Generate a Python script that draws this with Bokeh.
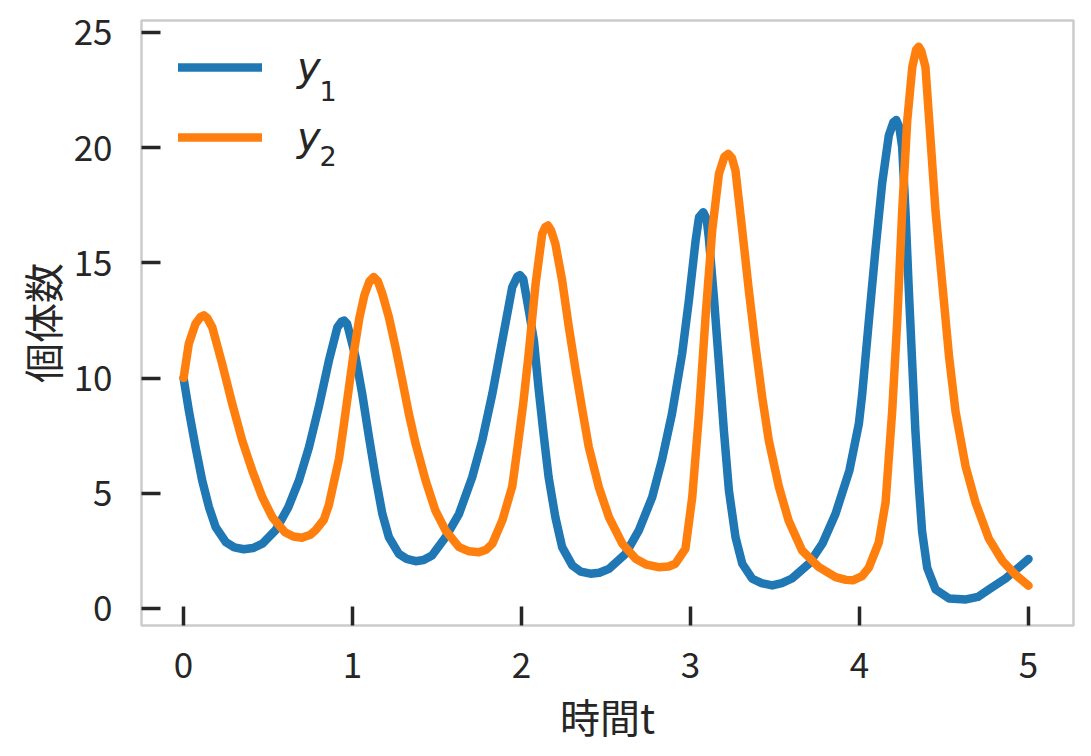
from bokeh.plotting import figure
from bokeh.models import Range1d, Legend, LegendItem, Label, FixedTicker
from bokeh.embed import file_html
from bokeh.resources import INLINE

# ---- data ----
t1 = [0.0, 0.031, 0.071, 0.11, 0.15, 0.19, 0.25, 0.30, 0.357, 0.41, 0.466, 0.544, 0.62, 0.683,
      0.742, 0.80, 0.86, 0.91, 0.935, 0.949, 0.968, 1.018, 1.057, 1.097, 1.136, 1.176, 1.215,
      1.274, 1.32, 1.373, 1.42, 1.47, 1.55, 1.63, 1.708, 1.767, 1.827, 1.886, 1.945, 1.975,
      1.99, 2.01, 2.043, 2.073, 2.10, 2.13, 2.16, 2.20, 2.24, 2.30, 2.35, 2.408, 2.46, 2.517,
      2.615, 2.694, 2.773, 2.83, 2.89, 2.95, 2.99, 3.03, 3.05, 3.075, 3.095, 3.108, 3.138,
      3.168, 3.197, 3.227, 3.266, 3.306, 3.365, 3.42, 3.483, 3.54, 3.60, 3.70, 3.78, 3.858,
      3.94, 3.996, 4.016, 4.055, 4.095, 4.134, 4.173, 4.20, 4.217, 4.235, 4.252, 4.272, 4.29,
      4.31, 4.33, 4.35, 4.37, 4.40, 4.45, 4.53, 4.63, 4.70, 4.765, 4.864, 4.94, 5.0]
y1 = [10.0, 8.6, 7.0, 5.56, 4.4, 3.53, 2.88, 2.65, 2.57, 2.62, 2.81, 3.39, 4.4, 5.56,
      7.0, 8.74, 10.76, 12.2, 12.45, 12.5, 12.35, 10.9, 9.32, 7.44, 5.7, 4.11, 3.09,
      2.37, 2.15, 2.05, 2.1, 2.3, 3.09, 4.11, 5.7, 7.29, 9.32, 11.63, 13.95, 14.4,
      14.47, 14.3, 12.93, 11.63, 9.6, 7.58, 5.7, 3.96, 2.66, 1.87, 1.6, 1.51, 1.55, 1.72,
      2.37, 3.39, 4.83, 6.42, 8.45, 11.05, 13.37, 15.97, 16.98, 17.2, 16.9, 16.1, 13.51,
      10.62, 7.73, 5.12, 3.09, 1.94, 1.29, 1.1, 1.0, 1.1, 1.3, 1.94, 2.81, 4.11,
      5.99, 8.02, 9.33, 12.48, 15.63, 18.47, 20.52, 21.1, 21.2, 20.9, 20.05, 17.2, 14.06,
      10.9, 7.76, 5.4, 3.35, 1.77, 0.82, 0.43, 0.39, 0.5, 0.82, 1.3, 1.77, 2.15]

t2 = [0.0, 0.031, 0.071, 0.10, 0.12, 0.14, 0.17, 0.229, 0.288, 0.347, 0.406, 0.466, 0.525,
      0.60, 0.65, 0.70, 0.75, 0.78, 0.83, 0.86, 0.89, 0.92, 0.947, 0.975, 1.005, 1.04, 1.07,
      1.10, 1.125, 1.15, 1.176, 1.215, 1.254, 1.294, 1.333, 1.373, 1.432, 1.49, 1.55, 1.63,
      1.69, 1.747, 1.79, 1.827, 1.886, 1.945, 1.98, 2.01, 2.04, 2.083, 2.122, 2.14, 2.156,
      2.175, 2.20, 2.24, 2.28, 2.32, 2.36, 2.398, 2.457, 2.517, 2.596, 2.675, 2.74, 2.81,
      2.87, 2.91, 2.97, 3.01, 3.05, 3.09, 3.128, 3.168, 3.20, 3.223, 3.245, 3.266, 3.306,
      3.345, 3.385, 3.424, 3.463, 3.523, 3.58, 3.66, 3.76, 3.858, 3.92, 3.96, 4.015, 4.055,
      4.114, 4.154, 4.193, 4.223, 4.252, 4.282, 4.312, 4.335, 4.35, 4.365, 4.39, 4.42, 4.45,
      4.49, 4.53, 4.568, 4.627, 4.686, 4.765, 4.844, 4.923, 5.0]
y2 = [10.0, 11.5, 12.36, 12.65, 12.72, 12.6, 12.2, 10.6, 8.88, 7.29, 5.99, 4.83, 3.96,
      3.31, 3.12, 3.07, 3.2, 3.39, 3.85, 4.5, 5.5, 6.5, 7.9, 9.4, 11.0, 12.6, 13.6,
      14.2, 14.38, 14.2, 13.66, 12.64, 11.34, 9.9, 8.45, 7.15, 5.56, 4.25, 3.39, 2.66,
      2.48, 2.44, 2.55, 2.81, 3.82, 5.3, 7.2, 8.9, 10.9, 14.09, 16.26, 16.55, 16.62,
      16.4, 15.83, 14.24, 12.2, 10.33, 8.59, 7.0, 5.27, 3.96, 2.81, 2.16, 1.9, 1.79,
      1.82, 1.94, 2.6, 4.83, 8.45, 12.79, 16.4, 18.87, 19.6, 19.73, 19.55, 19.0, 16.4,
      13.8, 11.34, 9.17, 7.29, 5.27, 3.82, 2.52, 1.79, 1.36, 1.24, 1.22, 1.4, 1.77,
      2.87, 4.6, 8.55, 12.48, 17.2, 21.15, 23.5, 24.25, 24.38, 24.2, 23.5, 20.36, 17.2,
      14.06, 10.9, 8.55, 6.18, 4.6, 3.03, 2.08, 1.46, 0.99]

series_names = ["y", "y"]
series_subs = ["1", "2"]
x_ticks = [0, 1, 2, 3, 4, 5]
y_ticks = [0, 5, 10, 15, 20, 25]
x_label = "時間t"
y_label = "個体数"

TXT = "#262626"
JP = "Noto Sans CJK JP"

p = figure(width=1091, height=756, output_backend="svg", toolbar_location=None,
           x_range=Range1d(-0.249, 5.266), y_range=Range1d(-0.74, 25.52),
           min_border_left=141, min_border_right=18, min_border_top=20,
           min_border_bottom=131)
p.xgrid.visible = False
p.ygrid.visible = False
p.outline_line_color = "#cccccc"
p.outline_line_width = 2.5
p.background_fill_color = "white"
p.border_fill_color = "white"

for ax, ticks in ((p.xaxis, x_ticks), (p.yaxis, y_ticks)):
    ax.ticker = FixedTicker(ticks=ticks)
    ax.axis_line_color = None
    ax.major_tick_line_color = TXT
    ax.major_tick_line_width = 3.5
    ax.major_tick_in = 19
    ax.major_tick_out = 0
    ax.minor_tick_line_color = None
    ax.major_label_text_font = JP
    ax.major_label_text_font_size = "35px"
    ax.major_label_text_color = TXT
    ax.axis_label_text_font = JP
    ax.axis_label_text_font_style = "normal"
    ax.axis_label_text_font_size = "40px"
    ax.axis_label_text_color = TXT

p.yaxis.major_label_standoff = 29
p.xaxis.major_label_standoff = 26
p.yaxis.axis_label = y_label
p.yaxis.axis_label_standoff = 0
p.xaxis.axis_label = x_label
p.xaxis.axis_label_standoff = 6

r1 = p.line(t1, y1, line_color="#1f77b4", line_width=8.5, line_cap="round", line_join="round")
r2 = p.line(t2, y2, line_color="#ff7f0e", line_width=8.5, line_cap="round", line_join="round")

legend = Legend(items=[LegendItem(label=series_names[0], renderers=[r1]),
                       LegendItem(label=series_names[1], renderers=[r2])],
                location=(37, 465), glyph_width=84, glyph_height=40, label_height=40,
                label_standoff=35, spacing=24, padding=0, margin=0,
                border_line_color=None, background_fill_alpha=0,
                label_text_font="DejaVu Sans", label_text_font_style="italic",
                label_text_font_size="40px", label_text_color=TXT)
p.add_layout(legend)

# subscripts of the legend labels
for sub, yy in zip(series_subs, [22.45, 19.66]):
    p.add_layout(Label(x=0.805, y=yy, text=sub, text_font="DejaVu Sans",
                       text_font_size="27px", text_color=TXT,
                       text_align="left", text_baseline="middle"))

open("out.html", "w").write(file_html(p, INLINE))
